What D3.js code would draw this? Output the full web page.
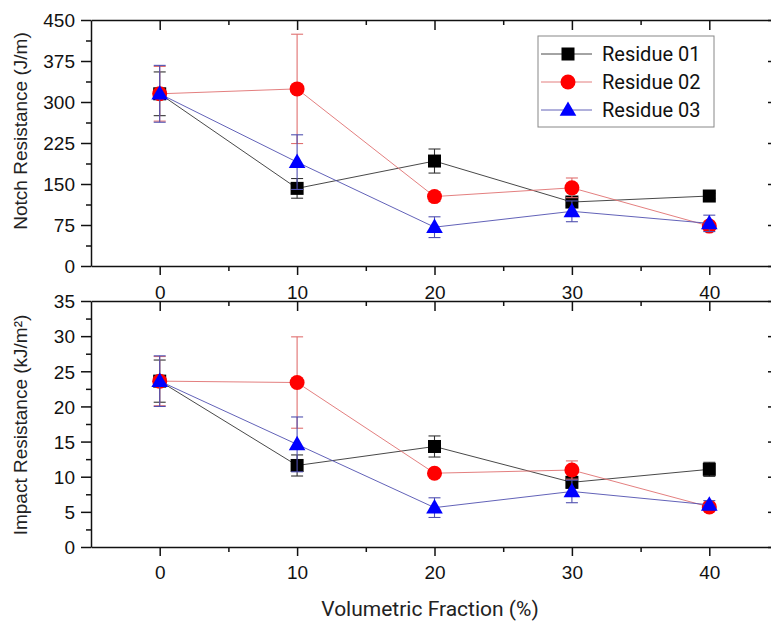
<!DOCTYPE html>
<html>
<head>
<meta charset="utf-8">
<script src="https://cdn.jsdelivr.net/npm/d3@7"></script>
<style>
  body { margin: 0; background: #fff; }
  svg { display: block; }
  .domain, .tick line { stroke: #111; stroke-width: 1.5; }
</style>
</head>
<body>
<svg></svg>
<script>
const fractions = [0, 10, 20, 30, 40];

const seriesNames = ['Residue 01', 'Residue 02', 'Residue 03'];

// Notch resistance (J/m) and error bars
const notch01 = [315, 142, 192, 117, 128];
const notch01Err = [40, 18, 22, 6, 5];
const notch02 = [315, 324, 127, 143, 73];
const notch02Err = [50, 100, 9, 18, 6];
const notch03 = [315, 190, 71, 100, 78];
const notch03Err = [52, 50, 19, 19, 15];

// Impact resistance (kJ/m²) and error bars
const impact01 = [23.6, 11.6, 14.3, 9.2, 11.05];
const impact01Err = [3, 1.5, 1.5, 0.8, 1.0];
const impact02 = [23.6, 23.4, 10.5, 10.95, 5.7];
const impact02Err = [3.5, 6.5, 0.5, 1.3, 0.5];
const impact03 = [23.6, 14.6, 5.6, 7.9, 6.0];
const impact03Err = [3.6, 3.9, 1.4, 1.6, 0.6];

const notchTicks = [0, 75, 150, 225, 300, 375, 450];
const impactTicks = [0, 5, 10, 15, 20, 25, 30, 35];

const width = 771, height = 624;
const svg = d3.select('svg').attr('width', width).attr('height', height);

const colors = ['#000000', '#ff0000', '#0000ff'];
const lineColors = ['#333333', '#e07070', '#5050b0'];

const x = d3.scaleLinear().domain([-5, 45]).range([91, 778]);

const panels = [
  { top: 20, bottom: 266, max: 450, ticks: notchTicks, step: 75, pad: 11,
    title: 'Notch Resistance (J/m)', titleY: 131,
    series: [[notch01, notch01Err], [notch02, notch02Err], [notch03, notch03Err]], legend: true },
  { top: 301, bottom: 547, max: 35, ticks: impactTicks, step: 5, pad: 10,
    title: 'Impact Resistance (kJ/m²)', titleY: 425,
    series: [[impact01, impact01Err], [impact02, impact02Err], [impact03, impact03Err]], legend: false }
];

function marker(sel, i) {
  if (i === 0) {
    sel.append('rect').attr('x', -6.5).attr('y', -6.5).attr('width', 13).attr('height', 13)
      .attr('fill', colors[0]);
  } else if (i === 1) {
    sel.append('circle').attr('r', 7.5).attr('fill', colors[1]);
  } else {
    sel.append('path').attr('d', d3.symbol(d3.symbolTriangle, 120)()).attr('fill', colors[2])
      .attr('transform', 'translate(0,1)');
  }
}

function tickFont(s) {
  s.selectAll('.tick text')
    .attr('font-family', '"Liberation Sans", Arial, sans-serif')
    .attr('font-size', 19)
    .attr('fill', '#111');
}

panels.forEach(p => {
  const y = d3.scaleLinear().domain([0, p.max]).range([p.bottom, p.top]);
  const g = svg.append('g');
  const minorY = d3.range(p.step / 2, p.max, p.step).filter(v => p.ticks.indexOf(v) < 0);

  // minor ticks
  g.append('g').attr('transform', `translate(91,0)`)
    .call(d3.axisLeft(y).tickValues(minorY).tickSize(5).tickFormat(''))
    .call(s => s.select('.domain').remove());
  g.append('g').attr('transform', `translate(778,0)`)
    .call(d3.axisLeft(y).tickValues(minorY).tickSize(5).tickFormat(''))
    .call(s => s.select('.domain').remove());
  g.append('g').attr('transform', `translate(0,${p.bottom})`)
    .call(d3.axisBottom(x).tickValues([5, 15, 25, 35]).tickSize(5).tickFormat(''))
    .call(s => s.select('.domain').remove());
  g.append('g').attr('transform', `translate(0,${p.top})`)
    .call(d3.axisBottom(x).tickValues([5, 15, 25, 35]).tickSize(5).tickFormat(''))
    .call(s => s.select('.domain').remove());

  // major axes
  g.append('g').attr('transform', `translate(91,0)`)
    .call(d3.axisLeft(y).tickValues(p.ticks).tickSize(10).tickPadding(6).tickSizeOuter(0))
    .call(tickFont)
    .call(s => s.selectAll('.tick text').attr('dy', '0.36em'));
  g.append('g').attr('transform', `translate(778,0)`)
    .call(d3.axisLeft(y).tickValues(p.ticks).tickSize(10).tickFormat('').tickSizeOuter(0));
  g.append('g').attr('transform', `translate(0,${p.bottom})`)
    .call(d3.axisBottom(x).tickValues(fractions).tickSize(9).tickPadding(p.pad).tickSizeOuter(0))
    .call(tickFont);
  g.append('g').attr('transform', `translate(0,${p.top})`)
    .call(d3.axisBottom(x).tickValues(fractions).tickSize(10).tickFormat('').tickSizeOuter(0));

  // y title
  g.append('text')
    .attr('transform', `translate(27,${p.titleY}) rotate(-90)`)
    .attr('text-anchor', 'middle')
    .attr('font-family', '"Liberation Sans", Arial, sans-serif')
    .attr('font-size', 19).attr('fill', '#222')
    .text(p.title);

  // series
  p.series.forEach(([vals, errs], i) => {
    const sg = g.append('g');
    const pts = fractions.map((f, k) => ({ f, v: vals[k], e: errs[k] }));
    sg.append('path').datum(pts)
      .attr('fill', 'none').attr('stroke', lineColors[i]).attr('stroke-width', 0.9)
      .attr('d', d3.line().x(d => x(d.f)).y(d => y(d.v)));
    const eb = sg.selectAll('.eb').data(pts).enter().append('g')
      .attr('stroke', lineColors[i]).attr('stroke-width', 1.1);
    eb.append('line').attr('x1', d => x(d.f)).attr('x2', d => x(d.f))
      .attr('y1', d => y(d.v - d.e)).attr('y2', d => y(d.v + d.e));
    eb.append('line').attr('x1', d => x(d.f) - 6).attr('x2', d => x(d.f) + 6)
      .attr('y1', d => y(d.v + d.e)).attr('y2', d => y(d.v + d.e));
    eb.append('line').attr('x1', d => x(d.f) - 6).attr('x2', d => x(d.f) + 6)
      .attr('y1', d => y(d.v - d.e)).attr('y2', d => y(d.v - d.e));
    sg.selectAll('.mk').data(pts).enter().append('g')
      .attr('transform', d => `translate(${x(d.f)},${y(d.v)})`)
      .each(function () { marker(d3.select(this), i); });
  });

  if (p.legend) {
    const lg = g.append('g').attr('transform', 'translate(538,36)');
    lg.append('rect').attr('width', 176).attr('height', 91)
      .attr('fill', '#fff').attr('stroke', '#888').attr('stroke-width', 1);
    seriesNames.forEach((name, i) => {
      const yy = 18 + i * 28;
      lg.append('line').attr('x1', 3).attr('x2', 54).attr('y1', yy).attr('y2', yy)
        .attr('stroke', lineColors[i]).attr('stroke-width', 0.9);
      const m = lg.append('g').attr('transform', `translate(30,${yy})`);
      marker(m, i);
      lg.append('text').attr('x', 64).attr('y', yy).attr('dy', '0.36em')
        .attr('font-family', 'Roboto, sans-serif').attr('font-size', 20).attr('fill', '#111')
        .text(name);
    });
  }
});

svg.append('text')
  .attr('x', 430).attr('y', 616)
  .attr('text-anchor', 'middle')
  .attr('font-family', 'Roboto, sans-serif').attr('font-size', 21).attr('fill', '#222')
  .text('Volumetric Fraction (%)');
</script>
</body>
</html>
